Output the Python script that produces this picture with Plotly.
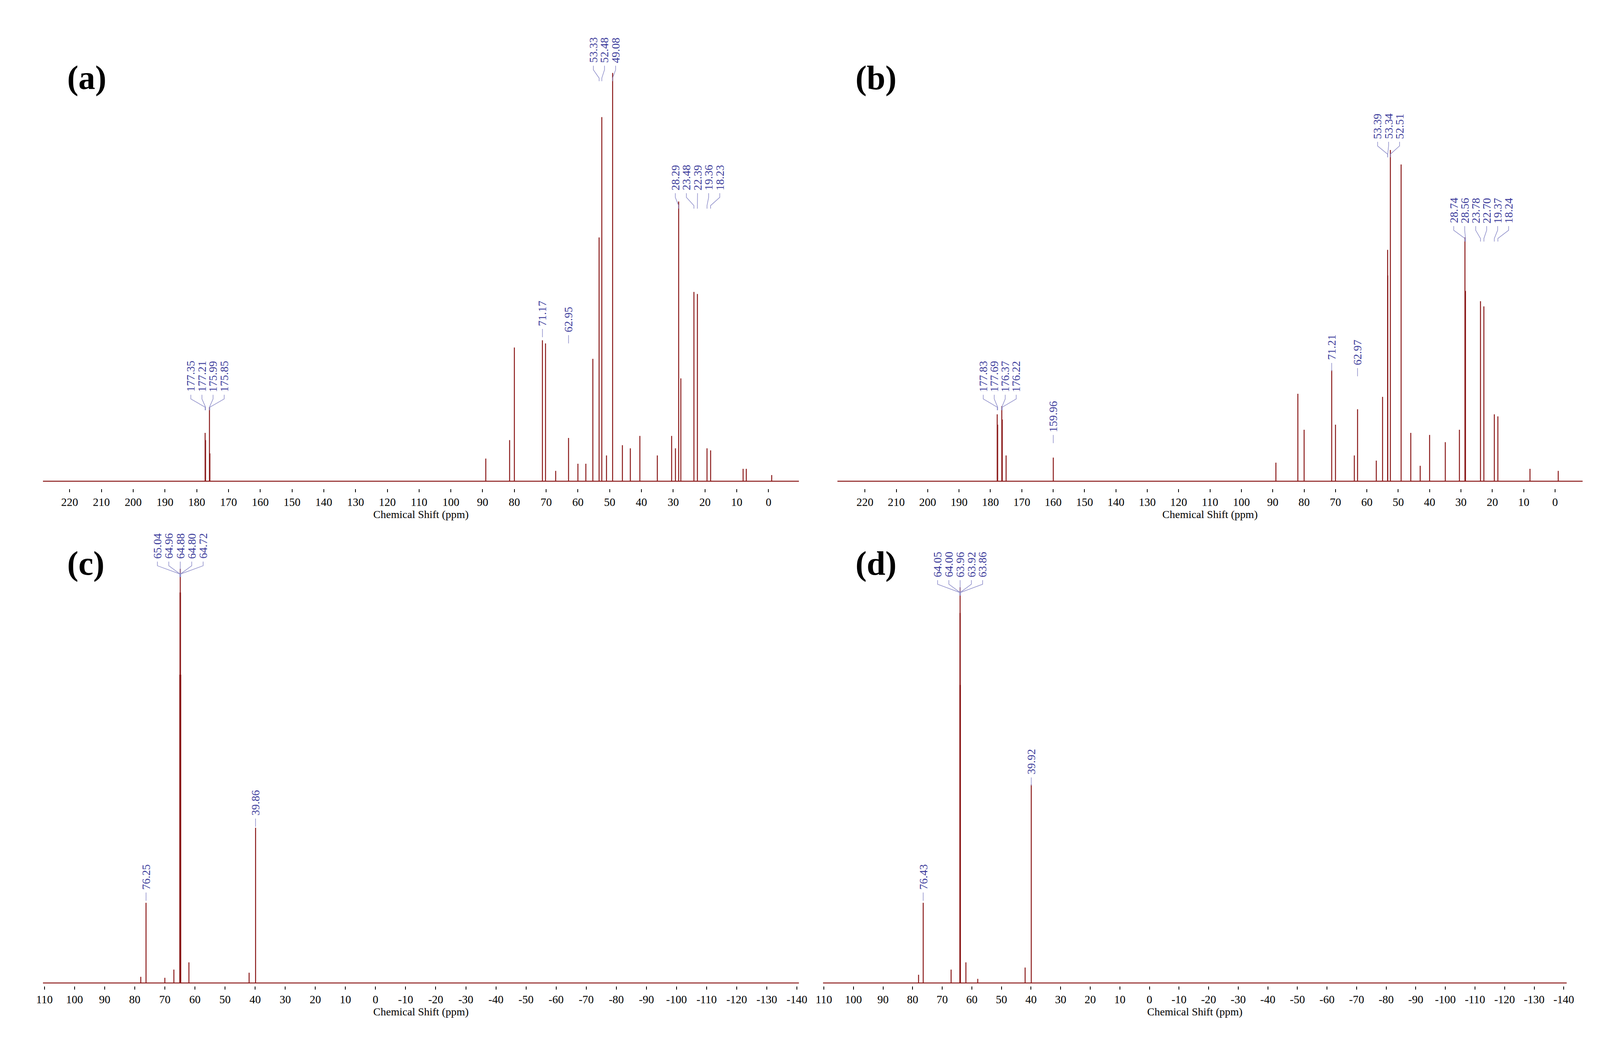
import plotly.graph_objects as go

# ---- data: peak positions (ppm) and heights (arbitrary units) ----
a_ppm = [177.35, 177.21, 175.99, 175.85, 89.0, 81.5, 80.0, 71.17, 70.2, 67.0, 62.95, 60.0, 57.5, 55.3, 53.33, 52.48, 51.0, 49.08, 46.0, 43.5, 40.5, 35.0, 30.5, 29.3, 28.29, 27.6, 23.48, 22.39, 19.36, 18.23, 8.0, 7.0, -1.0]
a_h   = [47, 40, 72, 27, 22, 40, 130, 137, 134, 10, 42, 17, 17, 119, 237, 354, 25, 397, 35, 32, 44, 25, 44, 32, 272, 100, 184, 182, 32, 30, 12, 12, 6]
b_ppm = [177.83, 177.69, 176.37, 176.22, 175.0, 159.96, 89.0, 82.0, 80.0, 71.21, 70.0, 64.0, 62.97, 57.0, 55.0, 53.39, 53.34, 52.51, 49.08, 46.0, 43.0, 40.0, 35.0, 30.5, 28.74, 28.56, 23.78, 22.70, 19.37, 18.24, 8.0, -1.0]
b_h   = [65, 55, 73, 60, 25, 23, 18, 85, 50, 108, 55, 25, 70, 20, 82, 225, 200, 322, 308, 47, 15, 45, 38, 50, 237, 185, 175, 170, 65, 63, 12, 10]
c_ppm = [78.0, 76.25, 70.0, 67.0, 65.04, 64.96, 64.88, 64.80, 64.72, 62.0, 42.0, 39.86]
c_h   = [6, 78, 5, 13, 300, 380, 403, 380, 300, 20, 10, 151]
d_ppm = [78.0, 76.43, 67.0, 64.05, 64.00, 63.96, 63.92, 63.86, 62.0, 58.0, 42.0, 39.92]
d_h   = [8, 78, 13, 290, 360, 385, 360, 290, 20, 4, 15, 193]

# label groups: (labels, label base height)
a_groups = [(["177.35", "177.21", "175.99", "175.85"], 84), (["71.17"], 148), (["62.95"], 142),
            (["53.33", "52.48", "49.08"], 404), (["28.29", "23.48", "22.39", "19.36", "18.23"], 280)]
b_groups = [(["177.83", "177.69", "176.37", "176.22"], 84), (["159.96"], 45), (["71.21"], 115), (["62.97"], 110),
            (["53.39", "53.34", "52.51"], 330), (["28.74", "28.56", "23.78", "22.70", "19.37", "18.24"], 248)]
c_groups = [(["76.25"], 88), (["65.04", "64.96", "64.88", "64.80", "64.72"], 410), (["39.86"], 160)]
d_groups = [(["76.43"], 88), (["64.05", "64.00", "63.96", "63.92", "63.86"], 392), (["39.92"], 200)]

top_ticks = list(range(220, -1, -10))
bot_ticks = list(range(110, -141, -10))

RED = "#8B1A1A"
BLUE = "#3B3B9B"
SERIF = "Liberation Serif, Times New Roman, serif"

panels = [
    dict(ppm=a_ppm, h=a_h, groups=a_groups, xr=[228.4, -9.6], ticks=top_ticks, dom=[0.0203, 0.494], ydom=[0.537, 0.977], yr=[-7.4, 441.4], gap=3.5, lab="(a)", lx=0.035, ly=0.929),
    dict(ppm=b_ppm, h=b_h, groups=b_groups, xr=[228.8, -8.8], ticks=top_ticks, dom=[0.518, 0.985], ydom=[0.537, 0.977], yr=[-7.4, 441.4], gap=3.5, lab="(b)", lx=0.529, ly=0.929),
    dict(ppm=c_ppm, h=c_h, groups=c_groups, xr=[110.5, -140.7], ticks=bot_ticks, dom=[0.0203, 0.494], ydom=[0.063, 0.495], yr=[-3, 438], gap=3.8, lab="(c)", lx=0.035, ly=0.466),
    dict(ppm=d_ppm, h=d_h, groups=d_groups, xr=[110.3, -141.0], ticks=bot_ticks, dom=[0.509, 0.975], ydom=[0.063, 0.495], yr=[-3, 438], gap=3.8, lab="(d)", lx=0.529, ly=0.466),
]

fig = go.Figure()
annotations = []
for i, p in enumerate(panels):
    sfx = "" if i == 0 else str(i + 1)
    xa, ya = "x" + sfx, "y" + sfx
    xs, ys = [p["xr"][0], p["xr"][1], None], [0, 0, None]
    for x, h in zip(p["ppm"], p["h"]):
        xs += [x, x, None]
        ys += [0, h, None]
    fig.add_trace(go.Scatter(x=xs, y=ys, mode="lines", line=dict(color=RED, width=2.5),
                             xaxis=xa, yaxis=ya, showlegend=False, hoverinfo="skip"))
    lxs, lys = [], []
    for labels, base in p["groups"]:
        vals = [float(t) for t in labels]
        n = len(vals)
        ctr = sum(vals) / n
        for k, (t, v) in enumerate(zip(labels, vals)):
            if n == 1:
                lx = v
                lxs += [v, v, None]
                lys += [base, base - 8, None]
            else:
                lx = ctr + ((n - 1) / 2 - k) * p["gap"]
                lxs += [lx, lx, v, v, None]
                lys += [base, base - 4, base - 12, base - 15, None]
            annotations.append(dict(x=lx, y=base + 2, xref=xa, yref=ya, text=t, textangle=-90,
                                    showarrow=False, xanchor="center", yanchor="bottom",
                                    font=dict(family=SERIF, size=29, color=BLUE)))
    fig.add_trace(go.Scatter(x=lxs, y=lys, mode="lines", line=dict(color="#8A8AC8", width=1.5),
                             xaxis=xa, yaxis=ya, showlegend=False, hoverinfo="skip"))
    fig.layout["xaxis" + sfx] = dict(domain=p["dom"], range=p["xr"], anchor=ya, tickvals=p["ticks"],
                                    ticktext=[str(t) for t in p["ticks"]],
                                    ticks="outside", ticklen=8, tickwidth=2, tickcolor="black", showline=False,
                                    showgrid=False, zeroline=False,
                                    tickfont=dict(family=SERIF, size=29, color="black"),
                                    title=dict(text="Chemical Shift (ppm)", standoff=0,
                                               font=dict(family=SERIF, size=28, color="black")))
    fig.layout["yaxis" + sfx] = dict(domain=p["ydom"], range=p["yr"], anchor=xa, visible=False)
    annotations.append(dict(x=p["lx"], y=p["ly"], xref="paper", yref="paper", text="<b>" + p["lab"] + "</b>",
                            showarrow=False, xanchor="left", yanchor="middle",
                            font=dict(family=SERIF, size=86, color="black")))

fig.update_layout(width=4126, height=2685, margin=dict(l=0, r=0, t=0, b=0),
                  plot_bgcolor="white", paper_bgcolor="white", annotations=annotations)
fig.write_html("out.html")
